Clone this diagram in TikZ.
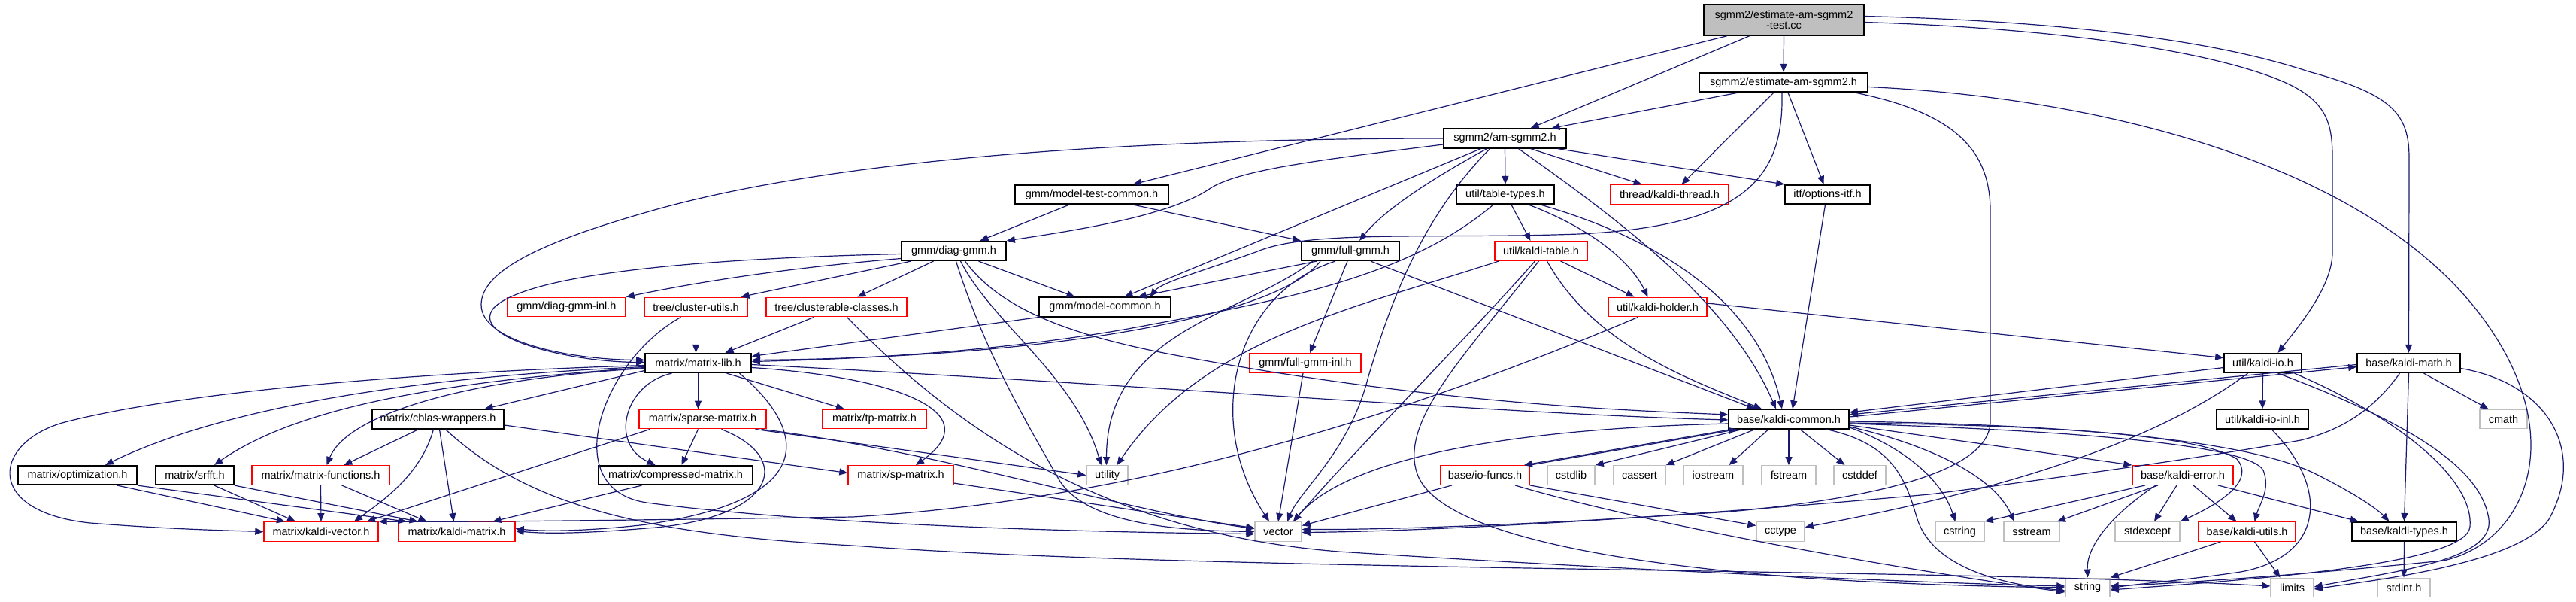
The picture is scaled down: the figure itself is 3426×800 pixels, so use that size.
\documentclass[tikz,border=0pt]{standalone}
\usepackage{fontspec}
\setmainfont{Liberation Sans}
\usetikzlibrary{arrows.meta}
\definecolor{edgec}{HTML}{191970}
\definecolor{sysgray}{HTML}{BFBFBF}
\begin{document}
\begin{tikzpicture}[x=1pt,y=-1pt,
  nd/.style={draw=black, line width=1.7pt, fill=white, minimum height=25.5pt, minimum width=#1, inner sep=0pt, font=\fontsize{14.5}{14.5}\selectfont},
  rd/.style={nd=#1, draw=red, line width=1.4pt},
  gy/.style={nd=#1, draw=sysgray, line width=1.4pt},
  e/.style={draw=edgec, line width=1.2pt, -{Triangle[length=11pt,width=9pt]}},
]
\useasboundingbox (0,0) rectangle (3426,800);
% ---------------- nodes ----------------
\node[nd=213pt, fill=sysgray, minimum height=41pt, align=center] (R) at (2372.5,26.5) {sgmm2/estimate-am-sgmm2\\-test.cc};
\node[nd=224pt] (EAS) at (2372,109.5) {sgmm2/estimate-am-sgmm2.h};
\node[nd=163pt] (AS) at (2001.5,184) {sgmm2/am-sgmm2.h};
\node[nd=204pt] (MTC) at (1452,258.5) {gmm/model-test-common.h};
\node[nd=130pt] (TT) at (2002,258.5) {util/table-types.h};
\node[rd=157pt] (KT) at (2220.5,258.5) {thread/kaldi-thread.h};
\node[nd=113pt] (OI) at (2430.5,258.5) {itf/options-itf.h};
\node[nd=139pt] (DG) at (1268.5,333.5) {gmm/diag-gmm.h};
\node[nd=130pt] (FG) at (1796,333.5) {gmm/full-gmm.h};
\node[rd=123pt] (KTab) at (2049.5,333.5) {util/kaldi-table.h};
\node[rd=157pt] (DGI) at (753.5,408) {gmm/diag-gmm-inl.h};
\node[rd=137pt] (CU) at (925.5,408) {tree/cluster-utils.h};
\node[rd=187pt] (CC) at (1112.5,408) {tree/clusterable-classes.h};
\node[nd=175pt] (MC) at (1469.5,408) {gmm/model-common.h};
\node[rd=131pt] (KH) at (2204.5,408) {util/kaldi-holder.h};
\node[nd=141pt] (ML) at (928.5,482.5) {matrix/matrix-lib.h};
\node[rd=148pt] (FGI) at (1736,482.5) {gmm/full-gmm-inl.h};
\node[nd=103pt] (KIO) at (3009.5,482.5) {util/kaldi-io.h};
\node[nd=137pt] (KM) at (3203.5,482.5) {base/kaldi-math.h};
\node[nd=175pt] (CW) at (582.5,557) {matrix/cblas-wrappers.h};
\node[rd=169pt] (SPM) at (934.5,557) {matrix/sparse-matrix.h};
\node[rd=138pt] (TP) at (1163,557) {matrix/tp-matrix.h};
\node[nd=160pt] (KC) at (2379,557) {base/kaldi-common.h};
\node[nd=122pt] (KIOI) at (3009,557) {util/kaldi-io-inl.h};
\node[gy=63pt] (CM) at (3329.5,557) {cmath};
\node[nd=158pt] (OPT) at (103,631.5) {matrix/optimization.h};
\node[nd=104pt] (SRF) at (259,631.5) {matrix/srfft.h};
\node[rd=183pt] (MF) at (426.5,631.5) {matrix/matrix-functions.h};
\node[nd=205pt] (CMX) at (898.5,631.5) {matrix/compressed-matrix.h};
\node[rd=140pt] (SP) at (1198,631.5) {matrix/sp-matrix.h};
\node[gy=55pt] (UT) at (1472.5,631.5) {utility};
\node[rd=118pt] (IOF) at (1975,631.5) {base/io-funcs.h};
\node[gy=63pt] (CSL) at (2089.5,631.5) {cstdlib};
\node[gy=69pt] (CAS) at (2180.5,631.5) {cassert};
\node[gy=79pt] (IOS) at (2278.5,631.5) {iostream};
\node[gy=72pt] (FST) at (2379,631.5) {fstream};
\node[gy=69pt] (CSD) at (2473.5,631.5) {cstddef};
\node[rd=134pt] (KE) at (2903,631.5) {base/kaldi-error.h};
\node[rd=152pt] (KV) at (427,706.5) {matrix/kaldi-vector.h};
\node[rd=155pt] (KMx) at (607.5,706.5) {matrix/kaldi-matrix.h};
\node[gy=62pt] (VEC) at (1700,706.5) {vector};
\node[gy=64pt] (CCT) at (2368,706.5) {cctype};
\node[gy=65pt] (CST) at (2606.5,706.5) {cstring};
\node[gy=74pt] (SST) at (2702,706.5) {sstream};
\node[gy=86pt] (SEX) at (2856,706.5) {stdexcept};
\node[rd=129pt] (KU) at (2988.5,706.5) {base/kaldi-utils.h};
\node[nd=139pt] (KTY) at (3197.5,706.5) {base/kaldi-types.h};
\node[gy=59pt] (STR) at (2776.5,781) {string};
\node[gy=57pt] (LIM) at (3048.5,781) {limits};
\node[gy=70pt] (SI) at (3197,781) {stdint.h};
% ---------------- edges ----------------
% root
\draw[e] (R.south) -- (EAS.north);
\draw[e] ([xshift=-46pt]R.south) -- ([xshift=34pt]AS.north);
\draw[e] ([xshift=-76pt]R.south) -- ([xshift=55pt]MTC.north);
\draw[e] ([yshift=-3pt]R.east) .. controls (2750,38) and (2950,70) .. (3040,110) .. controls (3095,135) and (3102,165) .. (3102,210) -- (3102,335) .. controls (3102,380) and (3060,430) .. ([xshift=20pt]KIO.north);
\draw[e] ([yshift=5pt]R.east) .. controls (2750,28) and (2950,55) .. (3070,95) .. controls (3180,125) and (3204,150) .. (3204,210) -- (KM.north);
% estimate-am-sgmm2.h
\draw[e] ([xshift=-60pt]EAS.south) -- ([xshift=62pt]AS.north);
\draw[e] ([xshift=-13pt]EAS.south) -- ([xshift=16pt]KT.north);
\draw[e] ([xshift=6pt]EAS.south) -- ([xshift=-5pt]OI.north);
\draw[e] ([xshift=-2pt]EAS.south) .. controls (2372,230) and (2330,300) .. (2100,311) .. controls (1900,318) and (1740,305) .. (1670,335) .. controls (1600,360) and (1545,375) .. ([xshift=60pt]MC.north);
\draw[e] ([xshift=95pt]EAS.south) .. controls (2600,150) and (2647,200) .. (2647,280) -- (2647,560) .. controls (2647,625) and (2500,662) .. (2300,680) .. controls (2000,700) and (1820,704) .. ([yshift=3pt]VEC.east);
\draw[e] ([yshift=-6pt]EAS.east) .. controls (2800,130) and (3150,220) .. (3300,420) .. controls (3420,580) and (3360,720) .. (3250,745) .. controls (3050,765) and (2900,775) .. ([yshift=2pt]STR.east);
% am-sgmm2.h
\draw[e] (AS.west) .. controls (1500,184) and (1100,212) .. (860,282) .. controls (720,322) and (640,360) .. (640,405) .. controls (640,455) and (760,478) .. ([yshift=4pt]ML.west);
\draw[e] ([yshift=-8pt]AS.west) .. controls (1760,212) and (1650,225) .. (1610,250) .. controls (1560,285) and (1440,305) .. (DG.north east);
\draw[e] ([xshift=-32pt]AS.south) -- ([xshift=26pt]MC.north);
\draw[e] ([xshift=-24pt]AS.south) .. controls (1900,240) and (1840,280) .. ([xshift=12pt]FG.north);
\draw[e] ([xshift=-20pt]AS.south) .. controls (1890,290) and (1850,400) .. (1820,500) .. controls (1795,600) and (1730,650) .. ([xshift=12pt]VEC.north);
\draw[e] (AS.south) -- (TT.north);
\draw[e] ([xshift=18pt]AS.south) .. controls (2150,290) and (2300,400) .. ([xshift=-17pt]KC.north);
\draw[e] ([xshift=34pt]AS.south) -- ([xshift=-37pt]KT.north);
\draw[e] ([xshift=70pt]AS.south) -- (OI.north west);
% model-test-common.h
\draw[e] ([xshift=-30pt]MTC.south) -- ([xshift=35pt]DG.north);
\draw[e] ([xshift=55pt]MTC.south) -- (FG.north west);
% table-types.h
\draw[e] ([xshift=8pt]TT.south) -- ([xshift=-14pt]KTab.north);
\draw[e] ([xshift=31pt]TT.south) .. controls (2120,305) and (2170,350) .. ([xshift=-13pt]KH.north);
\draw[e] ([xshift=47pt]TT.south) .. controls (2250,330) and (2345,430) .. ([xshift=-9pt]KC.north);
\draw[e] ([xshift=-16pt]TT.south) .. controls (1870,370) and (1700,400) .. (1500,437) .. controls (1300,472) and (1100,478) .. ([yshift=2pt]ML.east);
% diag-gmm.h
\draw[e] ([yshift=-4pt]DG.west) .. controls (950,343) and (700,362) .. (656,410) .. controls (625,450) and (760,481) .. ([yshift=1pt]ML.west);
\draw[e] ([yshift=-10pt]DG.west) .. controls (1000,360) and (880,385) .. (DGI.north east);
\draw[e] ([xshift=-57pt]DG.south) -- ([xshift=60pt]CU.north);
\draw[e] ([xshift=-27pt]DG.south) -- ([xshift=28pt]CC.north);
\draw[e] ([xshift=33pt]DG.south) -- ([xshift=-40pt]MC.north);
\draw[e] ([xshift=15pt]DG.south) .. controls (1330,410) and (1420,445) .. (1563,472) .. controls (1900,535) and (2150,545) .. ([yshift=6pt]KC.west);
\draw[e] ([xshift=9pt]DG.south) .. controls (1320,430) and (1430,500) .. ([xshift=-8pt]UT.north);
\draw[e] ([xshift=3pt]DG.south) .. controls (1310,470) and (1370,570) .. (1410,640) .. controls (1450,700) and (1580,705) .. (VEC.west);
% full-gmm.h
\draw[e] ([xshift=-40pt]FG.south) .. controls (1700,420) and (1400,475) .. ([yshift=4pt]ML.east);
\draw[e] ([xshift=-45pt]FG.south) -- ([xshift=44pt]MC.north);
\draw[e] ([xshift=-4pt]FG.south) -- ([xshift=6pt]FGI.north);
\draw[e] ([xshift=27pt]FG.south) -- ([xshift=-45pt]KC.north);
\draw[e] ([xshift=-50pt]FG.south) .. controls (1650,420) and (1472,440) .. ([xshift=-1pt]UT.north);
\draw[e] ([xshift=-20pt]FG.south) .. controls (1640,390) and (1600,560) .. ([xshift=-12pt]VEC.north);
% kaldi-table.h
\draw[e] ([xshift=-56pt]KTab.south) .. controls (1800,410) and (1600,450) .. ([xshift=13pt]UT.north);
\draw[e] ([xshift=26pt]KTab.south) -- ([xshift=-31pt]KH.north);
\draw[e] ([xshift=8pt]KTab.south) .. controls (2120,460) and (2250,505) .. ([xshift=-36pt]KC.north);
\draw[e] ([xshift=-8pt]KTab.south) .. controls (1960,440) and (1800,600) .. ([xshift=20pt]VEC.north);
\draw[e] ([xshift=-3pt]KTab.south) .. controls (1950,470) and (1860,560) .. (1885,630) .. controls (1910,700) and (2100,745) .. (2400,768) .. controls (2550,778) and (2680,780) .. (STR.west);
% tree, model-common
\draw[e] (CU.south) -- ([xshift=-3pt]ML.north);
\draw[e] ([xshift=-20pt]CU.south) .. controls (800,480) and (740,650) .. (860,668) .. controls (1100,700) and (1500,708) .. ([yshift=-3pt]VEC.west);
\draw[e] ([xshift=-30pt]CC.south) -- ([xshift=36pt]ML.north);
\draw[e] ([xshift=14pt]CC.south) .. controls (1300,600) and (1500,710) .. (1780,733) .. controls (2200,760) and (2600,776) .. ([yshift=2pt]STR.west);
\draw[e] (MC.south west) -- ([yshift=9pt]ML.east);
% kaldi-holder.h
\draw[e] ([yshift=5pt]KH.east) -- ([yshift=7pt]KIO.west);
\draw[e] ([xshift=-26pt]KH.south) .. controls (1850,560) and (1500,665) .. (1134,687) .. controls (800,692) and (600,694) .. (KV.north east);
% matrix-lib.h
\draw[e] ([yshift=-10pt]ML.west) -- ([xshift=62pt]CW.north);
\draw[e] (ML.south) -- ([xshift=-6pt]SPM.north);
\draw[e] ([xshift=38pt]ML.south) -- ([xshift=-40pt]TP.north);
\draw[e] ([yshift=-6pt]ML.east) .. controls (1180,500) and (1320,545) .. ([xshift=20pt]SP.north);
\draw[e] ([yshift=-2pt]ML.east) .. controls (1500,510) and (2000,550) .. ([yshift=-1pt]KC.west);
\draw[e] ([xshift=-35pt]ML.south) .. controls (830,510) and (810,590) .. ([xshift=-27pt]CMX.north);
\draw[e] ([xshift=55pt]ML.south) .. controls (1060,560) and (1110,660) .. (860,697) .. controls (790,705) and (730,707) .. ([yshift=4pt]KMx.east);
\draw[e] ([yshift=-3pt]ML.west) .. controls (550,495) and (250,520) .. (90,560) .. controls (-10,585) and (-25,680) .. (120,695) .. controls (220,703) and (300,705) .. (KV.west);
\draw[e] ([yshift=-5pt]ML.west) .. controls (560,500) and (300,540) .. ([xshift=37pt]OPT.north);
\draw[e] ([yshift=-6pt]ML.west) .. controls (570,508) and (390,545) .. ([xshift=26pt]SRF.north);
\draw[e] ([yshift=-7pt]ML.west) .. controls (600,505) and (460,555) .. ([xshift=8pt]MF.north);
% cblas-wrappers.h
\draw[e] ([xshift=-26pt]CW.south) -- ([xshift=31pt]MF.north);
\draw[e] ([xshift=-6pt]CW.south) .. controls (560,630) and (510,665) .. ([xshift=44pt]KV.north);
\draw[e] ([xshift=2pt]CW.south) -- ([xshift=-4pt]KMx.north);
\draw[e] ([yshift=-8pt]CW.east) -- ([yshift=3pt]SP.west);
\draw[e] ([xshift=10pt]CW.south) .. controls (700,670) and (850,710) .. (1134,725) .. controls (1600,760) and (2600,755) .. ([yshift=2pt]LIM.west);
% sparse-matrix.h
\draw[e] ([xshift=-6pt]SPM.south) -- ([xshift=8pt]CMX.north);
\draw[e] ([xshift=-70pt]SPM.south) -- ([xshift=61pt]KV.north);
\draw[e] ([xshift=25pt]SPM.south) .. controls (1060,610) and (1030,690) .. (860,702) .. controls (790,708) and (730,710) .. ([yshift=1pt]KMx.east);
\draw[e] ([xshift=70pt]SPM.south) -- (UT.west);
\draw[e] ([xshift=78pt]SPM.south) .. controls (1250,600) and (1500,680) .. ([yshift=4pt]VEC.west);
\draw[e] (SP) -- (VEC);
% optimization, srfft, matrix-functions, compressed-matrix
\draw[e] ([xshift=53pt]OPT.south) -- ([xshift=-48pt]KV.north);
\draw[e] (OPT.south east) -- ([xshift=-67pt]KMx.north);
\draw[e] ([xshift=26pt]SRF.south) -- ([xshift=-34pt]KV.north);
\draw[e] (SRF.south east) -- ([xshift=-52pt]KMx.north);
\draw[e] (MF.south) -- (KV.north);
\draw[e] ([xshift=28pt]MF.south) -- ([xshift=-40pt]KMx.north);
\draw[e] ([xshift=-45pt]CMX.south) -- ([xshift=48pt]KMx.north);
% full-gmm-inl.h, options-itf.h
\draw[e] ([xshift=-3pt]FGI.south) -- (VEC.north);
\draw[e] ([xshift=-3pt]OI.south) -- ([xshift=5pt]KC.north);
% kaldi-common.h
\draw[e] ([xshift=-76pt]KC.south) -- ([xshift=52pt]IOF.north);
\draw[e] (IOF.north east) -- ([xshift=-69pt]KC.south);
\draw[e] ([xshift=-62pt]KC.south) -- (CSL.north east);
\draw[e] ([xshift=-45pt]KC.south) -- (CAS.north east);
\draw[e] ([xshift=-27pt]KC.south) -- ([xshift=21pt]IOS.north);
\draw[e] (KC.south) -- (FST.north);
\draw[e] ([xshift=15pt]KC.south) -- ([xshift=-20pt]CSD.north);
\draw[e] ([yshift=-6pt]KC.west) .. controls (2000,570) and (1790,610) .. ([xshift=20pt]VEC.north);
\draw[e] ([yshift=3pt]KC.east) -- ([yshift=-5pt]KM.west);
\draw[e] ([yshift=-2pt]KM.west) -- ([yshift=6pt]KC.east);
\draw[e] ([yshift=-6pt]KIO.west) -- ([yshift=9pt]KC.east);
\draw[e] ([yshift=-8pt]KC.east) -- (KE.north west);
\draw[e] ([yshift=-11pt]KC.east) .. controls (2520,590) and (2580,630) .. ([xshift=-6pt]CST.north);
\draw[e] ([yshift=-10pt]KC.east) .. controls (2560,590) and (2650,630) .. ([xshift=-23pt]SST.north);
\draw[e] ([xshift=50pt]KC.south) .. controls (2520,590) and (2535,640) .. (2550,690) .. controls (2570,750) and (2650,775) .. ([yshift=-4pt]STR.west);
\draw[e] ([yshift=-5pt]KC.east) .. controls (2700,565) and (2920,575) .. (2975,610) .. controls (3000,640) and (2950,670) .. (SEX.north east);
\draw[e] ([yshift=-6pt]KC.east) .. controls (2750,572) and (2990,590) .. (3010,625) .. controls (3020,650) and (3005,670) .. ([xshift=10pt]KU.north);
\draw[e] ([yshift=-3pt]KC.east) .. controls (2800,565) and (3000,590) .. (3080,630) .. controls (3130,655) and (3160,675) .. ([xshift=-20pt]KTY.north);
% io-funcs.h
\draw[e] ([xshift=-44pt]IOF.south) -- ([yshift=8pt]VEC.east);
\draw[e] (IOF.south east) -- ([yshift=8pt]CCT.west);
\draw[e] ([xshift=40pt]IOF.south) .. controls (2200,700) and (2550,760) .. ([yshift=-6pt]STR.west);
% kaldi-io.h
\draw[e] ([xshift=-20pt]KIO.south) .. controls (2850,600) and (2620,660) .. ([yshift=6pt]CCT.east);
\draw[e] (KIO.south) -- (KIOI.north);
\draw[e] ([xshift=20pt]KIO.south) .. controls (3200,560) and (3300,620) .. (3310,690) .. controls (3318,745) and (3180,760) .. ([yshift=1pt]LIM.east);
\draw[e] ([xshift=42pt]KIO.south) .. controls (3200,560) and (3290,640) .. (3285,700) .. controls (3280,750) and (3000,770) .. ([yshift=-3pt]STR.east);
\draw[e] ([xshift=12pt]KIOI.south) .. controls (3100,650) and (3090,740) .. (2980,760) .. controls (2900,772) and (2840,776) .. ([yshift=-1pt]STR.east);
% kaldi-math.h
\draw[e] (KM.south) -- (KTY.north);
\draw[e] ([xshift=20pt]KM.south) -- ([xshift=-20pt]CM.north);
\draw[e] ([yshift=-7pt]KM.east) .. controls (3390,510) and (3440,600) .. (3390,690) .. controls (3350,750) and (3150,772) .. ([yshift=-2pt]LIM.east);
\draw[e] ([xshift=-12pt]KM.south) .. controls (3160,540) and (3120,570) .. (3060,585) .. controls (2920,610) and (2700,640) .. (2566,657) .. controls (2200,690) and (1900,706) .. ([yshift=-1pt]VEC.east);
% kaldi-error.h
\draw[e] ([xshift=-50pt]KE.south) -- (CST.north east);
\draw[e] ([xshift=-33pt]KE.south) -- ([xshift=34pt]SST.north);
\draw[e] ([xshift=-8pt]KE.south) -- ([xshift=9pt]SEX.north);
\draw[e] ([xshift=14pt]KE.south) -- ([xshift=-14pt]KU.north);
\draw[e] ([xshift=47pt]KE.south) -- ([xshift=-61pt]KTY.north);
\draw[e] ([xshift=-36pt]KE.south) .. controls (2800,690) and (2775,730) .. (STR.north);
% kaldi-utils.h, kaldi-types.h
\draw[e] ([xshift=-35pt]KU.south) -- (STR.north east);
\draw[e] ([xshift=10pt]KU.south) -- ([xshift=-16pt]LIM.north);
\draw[e] (KTY.south) -- (SI.north);
\end{tikzpicture}
\end{document}
